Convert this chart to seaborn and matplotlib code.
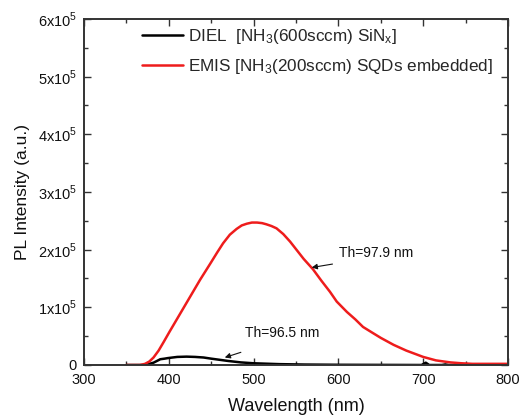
import matplotlib
matplotlib.use("Agg")
import matplotlib.pyplot as plt
import seaborn as sns
import pandas as pd
from matplotlib.ticker import MultipleLocator, FuncFormatter

# ---- data (PL intensity, a.u.) ----
emis_nm = [350, 360, 366, 372, 377, 382, 388, 394, 401, 409, 417, 425, 437, 449, 457,
           464, 472, 480, 486, 492, 498, 504, 510, 515, 521, 527, 535, 543, 551, 559,
           570, 580, 590, 598, 610, 620, 629, 640, 650, 665, 680, 700, 715, 732, 745,
           758, 780, 800]
emis_int = [0, 0, 0.0, 0.02e5, 0.06e5, 0.13e5, 0.25e5, 0.40e5, 0.58e5, 0.78e5, 0.98e5,
            1.18e5, 1.48e5, 1.76e5, 1.95e5, 2.11e5, 2.26e5, 2.36e5, 2.42e5, 2.45e5,
            2.47e5, 2.47e5, 2.46e5, 2.44e5, 2.41e5, 2.37e5, 2.27e5, 2.14e5, 1.99e5,
            1.84e5, 1.66e5, 1.46e5, 1.27e5, 1.10e5, 0.92e5, 0.79e5, 0.66e5, 0.56e5,
            0.47e5, 0.35e5, 0.25e5, 0.14e5, 0.08e5, 0.045e5, 0.03e5, 0.02e5, 0.02e5,
            0.02e5]

diel_nm = [350, 365, 372, 377, 382, 386, 390, 395, 399, 410, 421, 431, 441, 450, 460,
           470, 485, 500, 530, 560, 600, 650, 698, 703, 707, 722, 726, 730, 800]
diel_int = [0, 0, 0.0, 0.02e5, 0.04e5, 0.07e5, 0.10e5, 0.11e5, 0.12e5, 0.14e5, 0.145e5,
            0.14e5, 0.13e5, 0.11e5, 0.09e5, 0.07e5, 0.045e5, 0.03e5, 0.015e5,
            0.008e5, 0.004e5, 0.002e5, 0.0, 0.04e5, 0.0, 0.0, 0.01e5, 0.0, 0.0]

diel_label = r"DIEL  [NH$\mathregular{_3}$(600sccm) SiN$\mathregular{_x}$]"
emis_label = r"EMIS [NH$\mathregular{_3}$(200sccm) SQDs embedded]"

x_ticks = [300, 400, 500, 600, 700, 800]
y_ticks = [0, 1e5, 2e5, 3e5, 4e5, 5e5, 6e5]

df = pd.concat([
    pd.DataFrame({"Wavelength": diel_nm, "Intensity": diel_int, "Sample": diel_label}),
    pd.DataFrame({"Wavelength": emis_nm, "Intensity": emis_int, "Sample": emis_label}),
])

sns.set_style("ticks")
plt.rcParams["font.family"] = ["Liberation Sans", "DejaVu Sans"]
plt.rcParams["mathtext.fontset"] = "custom"
plt.rcParams["mathtext.rm"] = "Liberation Sans"

fig = plt.figure(figsize=(5.2, 4.16), dpi=100)
ax = fig.add_axes([0.1615, 0.1226, 0.8155, 0.8318])

sns.lineplot(data=df, x="Wavelength", y="Intensity", hue="Sample",
             palette={diel_label: "#000000", emis_label: "#ee1c1c"},
             linewidth=1.8, ax=ax, sort=False)

ax.set_xlim(300, 800)
ax.set_ylim(0, 6e5)
ax.set_xticks(x_ticks)
ax.set_yticks(y_ticks)
ax.xaxis.set_minor_locator(MultipleLocator(50))
ax.yaxis.set_minor_locator(MultipleLocator(0.5e5))


def yfmt(v, pos):
    if abs(v) < 1:
        return "0"
    return r"%dx10$^{\mathregular{5}}$" % round(v / 1e5)


ax.yaxis.set_major_formatter(FuncFormatter(yfmt))
ax.tick_params(which="both", direction="in", top=True, right=True,
               color="#333333", width=1.0, labelsize=10.5, labelcolor="#111111")
ax.tick_params(which="major", length=5)
ax.tick_params(which="minor", length=3)
ax.tick_params(axis="x", which="major", pad=6)
ax.tick_params(axis="y", which="major", pad=5)
for s in ax.spines.values():
    s.set_linewidth(1.4)
    s.set_color("#333333")

ax.set_xlabel("Wavelength (nm)", fontsize=13, color="#111111", labelpad=8)
ax.set_ylabel("PL Intensity (a.u.)", fontsize=12.5, color="#111111", labelpad=6)

leg = ax.legend(loc="upper left", bbox_to_anchor=(0.1, 1.02), frameon=False,
                fontsize=12.3, handlelength=2.4, handletextpad=0.3, labelspacing=0.6)

ax.annotate("Th=97.9 nm", xy=(568.5, 1.69e5), xytext=(601, 1.94e5),
            fontsize=10, color="#111111", va="center")
ax.annotate("", xy=(568.5, 1.69e5), xytext=(593, 1.75e5),
            arrowprops=dict(arrowstyle="-|>", color="#111111", lw=0.8,
                            shrinkA=0, shrinkB=0, mutation_scale=8))
ax.annotate("Th=96.5 nm", xy=(466, 0.13e5), xytext=(490, 0.55e5),
            fontsize=10, color="#111111", va="center")
ax.annotate("", xy=(466, 0.13e5), xytext=(485, 0.22e5),
            arrowprops=dict(arrowstyle="-|>", color="#111111", lw=0.8,
                            shrinkA=0, shrinkB=0, mutation_scale=8))

fig.savefig("out.png", dpi=100)
